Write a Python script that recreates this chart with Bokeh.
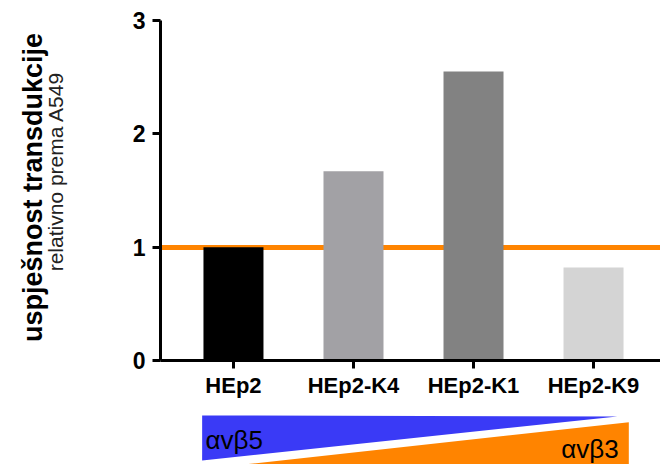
import math
from bokeh.plotting import figure
from bokeh.models import Range1d, FixedTicker, Label
from bokeh.layouts import column, row
from bokeh.embed import file_html
from bokeh.resources import INLINE

# ---- data ----
categories = ["HEp2", "HEp2-K4", "HEp2-K1", "HEp2-K9"]
values = [1.0, 1.67, 2.55, 0.82]
bar_colors = ["#000000", "#a2a1a5", "#828282", "#d4d4d4"]
reference_level = 1.0
y_ticks = [0, 1, 2, 3]
y_title = "uspješnost transdukcije"
y_subtitle = "relativno prema A549"

# integrin gradient wedges (x in category units, y in relative strip units)
avb5_label = "αvβ5"
avb3_label = "αvβ3"
avb5_x = [-0.261, 3.198, -0.261]
avb5_y = [0.766, 0.75, 0.0625]
avb3_x = [0.086, 3.294, 3.294]
avb3_y = [0.0, 0.661, 0.0]

BLUE = "#3a3af6"
ORANGE = "#ff8400"
FONT = "Liberation Sans"

positions = list(range(len(categories)))

# ---- left strip with the two-line y title ----
p0 = figure(width=70, height=464, x_range=Range1d(0, 1), y_range=Range1d(0, 1),
            output_backend="svg", toolbar_location=None,
            x_axis_location=None, y_axis_location=None,
            min_border_left=0, min_border_right=0,
            min_border_top=0, min_border_bottom=0)
p0.outline_line_color = None
p0.grid.visible = False
p0.add_layout(Label(x=32, y=277, x_units="screen", y_units="screen",
                    text=y_title, angle=math.pi / 2,
                    text_align="center", text_baseline="middle",
                    text_font=FONT, text_font_style="bold",
                    text_font_size="27px", text_color="black"))
p0.add_layout(Label(x=55, y=293, x_units="screen", y_units="screen",
                    text=y_subtitle, angle=math.pi / 2,
                    text_align="center", text_baseline="middle",
                    text_font=FONT, text_font_size="21px",
                    text_color="#222222"))

# ---- main bar chart ----
p = figure(width=590, height=400,
           x_range=Range1d(-0.608, 3.558), y_range=Range1d(0, 3),
           output_backend="svg", toolbar_location=None,
           min_border_left=90, min_border_right=0,
           min_border_top=20, min_border_bottom=40)
p.outline_line_color = None
p.grid.visible = False

p.hspan(y=[reference_level], line_color=ORANGE, line_width=5)
p.vbar(x=positions, top=values, width=0.5, fill_color=bar_colors, line_color=None)

xa = p.xaxis[0]
xa.ticker = FixedTicker(ticks=positions)
xa.major_label_overrides = {i: c for i, c in zip(positions, categories)}
xa.minor_tick_line_color = None

ya = p.yaxis[0]
ya.ticker = FixedTicker(ticks=y_ticks)
ya.minor_tick_line_color = None

for ax in (xa, ya):
    ax.axis_line_width = 3
    ax.axis_line_color = "black"
    ax.major_tick_line_width = 3
    ax.major_tick_line_color = "black"
    ax.major_tick_in = 0
    ax.major_tick_out = 8
    ax.major_label_text_font = FONT
    ax.major_label_text_font_style = "bold"
    ax.major_label_text_color = "black"

xa.major_label_text_font_size = "22px"
xa.major_label_standoff = 4
ya.major_label_text_font_size = "23px"
ya.major_label_standoff = 7

# ---- integrin gradient strip ----
p2 = figure(width=590, height=64, x_range=p.x_range, y_range=Range1d(0, 1),
            output_backend="svg", toolbar_location=None,
            x_axis_location=None, y_axis_location=None,
            min_border_left=90, min_border_right=0,
            min_border_top=0, min_border_bottom=0)
p2.outline_line_color = None
p2.grid.visible = False
p2.patch(avb5_x, avb5_y, fill_color=BLUE, line_color=None)
p2.patch(avb3_x, avb3_y, fill_color=ORANGE, line_color=None)
p2.add_layout(Label(x=-0.233, y=0.39, text=avb5_label, text_align="left",
                    text_baseline="alphabetic", text_font=FONT,
                    text_font_size="26px", text_color="black"))
p2.add_layout(Label(x=3.21, y=0.235, text=avb3_label, text_align="right",
                    text_baseline="alphabetic", text_font=FONT,
                    text_font_size="26px", text_color="black"))

layout = row(p0, column(p, p2, spacing=0), spacing=0)
open("out.html", "w").write(file_html(layout, INLINE))
